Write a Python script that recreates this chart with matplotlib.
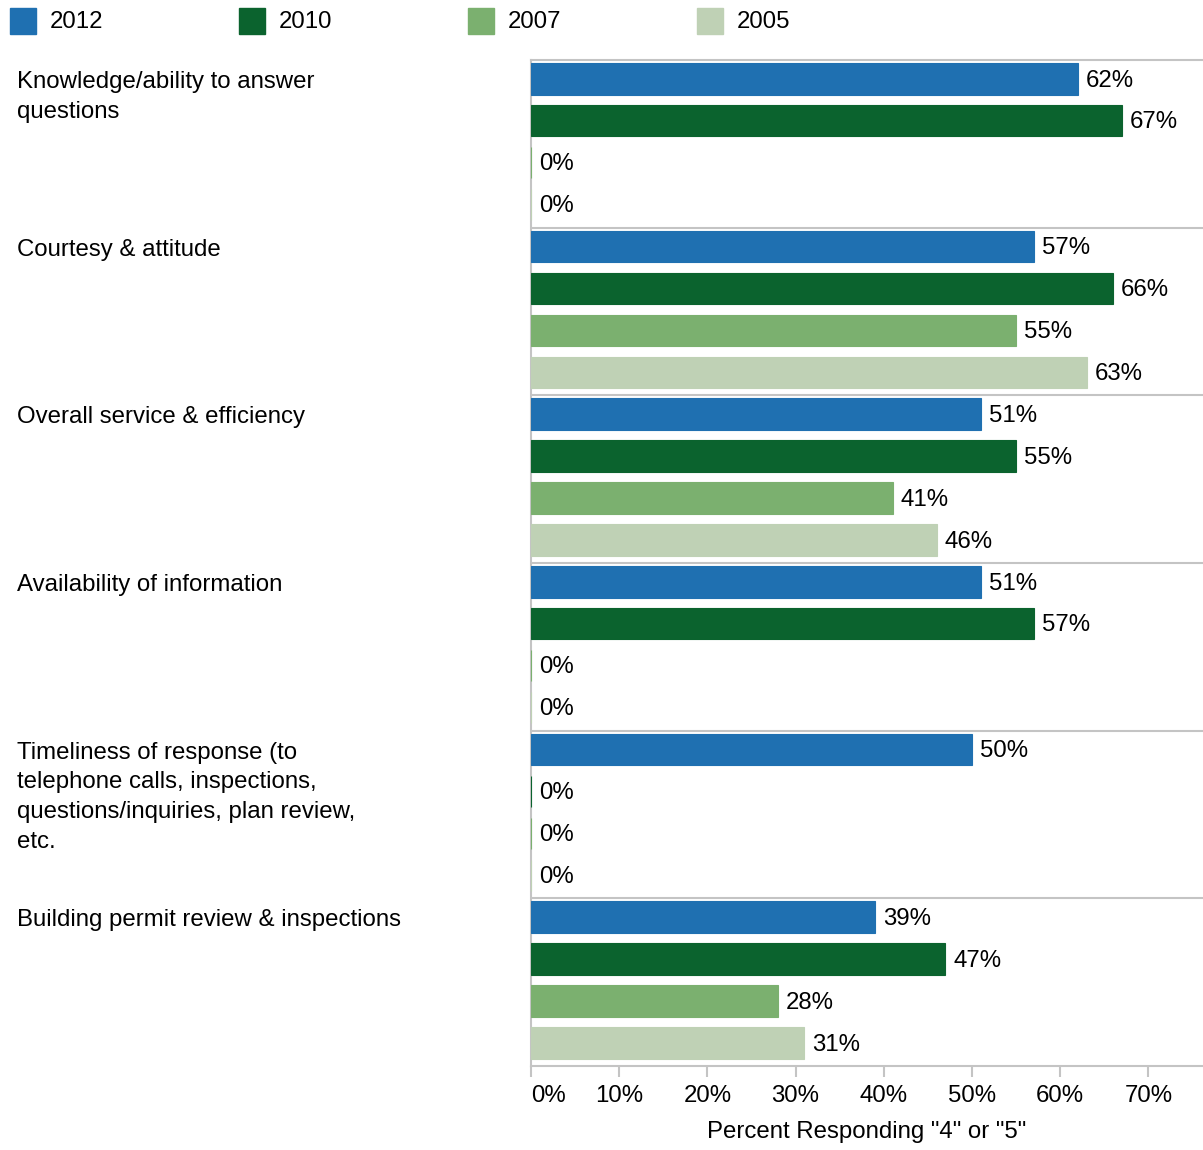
import matplotlib
matplotlib.use("Agg")
import matplotlib.pyplot as plt
from matplotlib.patches import Rectangle
import numpy as np

plt.rcParams["font.family"] = ["Liberation Sans", "DejaVu Sans"]

# ── Data ────────────────────────────────────────────────────────────────────
categories = [
    "Knowledge/ability to answer\nquestions",
    "Courtesy & attitude",
    "Overall service & efficiency",
    "Availability of information",
    "Timeliness of response (to\ntelephone calls, inspections,\nquestions/inquiries, plan review,\netc.",
    "Building permit review & inspections",
]
years = ["2012", "2010", "2007", "2005"]
v2012 = [62, 57, 51, 51, 50, 39]
v2010 = [67, 66, 55, 57, 0, 47]
v2007 = [0, 55, 41, 0, 0, 28]
v2005 = [0, 63, 46, 0, 0, 31]
colors = ["#1f70b1", "#0b632e", "#7bb06f", "#bfd1b5"]
tick_vals = [0, 10, 20, 30, 40, 50, 60, 70]

series = [v2012, v2010, v2007, v2005]
n_cat = len(categories)
n_ser = len(series)

W, H = 1203, 1150
fig = plt.figure(figsize=(W / 100, H / 100), dpi=100)
ax = fig.add_axes([531 / W, 84 / H, 1 - 531 / W, 1006 / H])

fs = 17.3
grid_col = "#c4c4c4"

for j, vals in enumerate(series):
    ys = np.arange(n_cat) * n_ser + j + 0.45
    ax.barh(ys, vals, height=0.75, color=colors[j], edgecolor=colors[j],
            linewidth=0.8, zorder=3)
    for y, v in zip(ys, vals):
        ax.text(v + 0.9, y + 0.04, f"{v}%", va="center", ha="left",
                fontsize=fs)

ax.set_xlim(0, 76.2)
ax.set_ylim(n_cat * n_ser, 0)

# group separators
for i in range(1, n_cat):
    ax.axhline(i * n_ser, color=grid_col, lw=1.5, zorder=0)

for s in ["top", "left", "bottom"]:
    ax.spines[s].set_color(grid_col)
    ax.spines[s].set_linewidth(1.5)
ax.spines["right"].set_visible(False)

ax.set_yticks([])
ax.set_xticks(tick_vals)
ax.set_xticklabels([f"{t}%" for t in tick_vals], fontsize=fs)
ax.get_xticklabels()[0].set_horizontalalignment("left")
ax.get_xticklabels()[0].set_x(0.6)
ax.tick_params(axis="x", length=8, width=1.5, color=grid_col, pad=6)
ax.set_xlabel('Percent Responding "4" or "5"', fontsize=fs, labelpad=10)

# category labels on the left
for i, cat in enumerate(categories):
    y_px = 60 + i * (1006 / n_cat) + 11
    fig.text(17 / W, 1 - y_px / H, cat, ha="left", va="top", fontsize=fs,
             linespacing=1.45)

# legend row
for k, (yr, c) in enumerate(zip(years, colors)):
    x0 = 10 + k * 229
    fig.add_artist(Rectangle((x0 / W, 1 - 34 / H), 26 / W, 26 / H,
                             transform=fig.transFigure, color=c))
    fig.text((x0 + 40) / W, 1 - 22 / H, yr, ha="left", va="center",
             fontsize=fs)

fig.savefig("out.png", dpi=100)
